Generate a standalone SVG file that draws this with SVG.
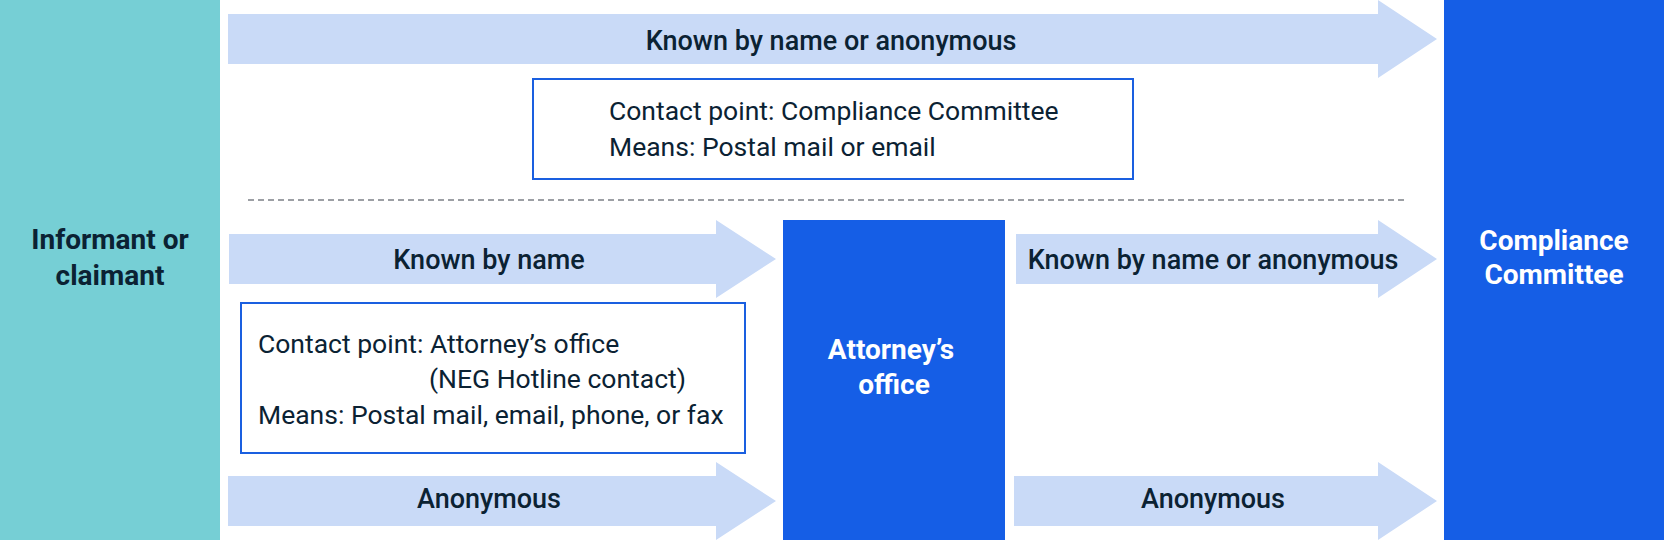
<svg xmlns="http://www.w3.org/2000/svg" width="1664" height="540" viewBox="0 0 1664 540">
  <style>
    .arrow { fill: #C9DAF7; }
    .lbl { font-family: Roboto, "Liberation Sans", sans-serif; font-size: 27px; font-weight: 500; fill: #0B2233; text-anchor: middle; }
    .info { font-family: Roboto, "Liberation Sans", sans-serif; font-size: 26.5px; font-weight: 400; fill: #0B2233; }
    .box { fill: #FFFFFF; stroke: #1A5FE0; stroke-width: 2; }
    .node-dark { font-family: Roboto, "Liberation Sans", sans-serif; font-size: 28px; font-weight: 700; fill: #0B2233; text-anchor: middle; }
    .node-light { font-family: Roboto, "Liberation Sans", sans-serif; font-size: 28px; font-weight: 700; fill: #FFFFFF; text-anchor: middle; }
  </style>
  <rect width="1664" height="540" fill="#FFFFFF"/>

  <g id="informant">
    <rect x="0" y="0" width="220" height="540" fill="#76CFD5"/>
    <text class="node-dark" x="110" y="249">Informant or</text>
    <text class="node-dark" x="110" y="285">claimant</text>
  </g>

  <g id="attorney">
    <rect x="783" y="220" width="222" height="320" fill="#155EE6"/>
    <text class="node-light" x="891" y="359">Attorney’s</text>
    <text class="node-light" x="894" y="394">office</text>
  </g>

  <g id="committee">
    <rect x="1444" y="0" width="220" height="540" fill="#155EE6"/>
    <text class="node-light" x="1554" y="250">Compliance</text>
    <text class="node-light" x="1554" y="284">Committee</text>
  </g>

  <g id="connectors">
    <polygon class="arrow" points="228,14 1378,14 1378,0 1437,39 1378,78 1378,64 228,64"/>
    <text class="lbl" x="831" y="50">Known by name or anonymous</text>

    <polygon class="arrow" points="229,234 716,234 716,220 776,259 716,298 716,284 229,284"/>
    <text class="lbl" x="489" y="269">Known by name</text>

    <polygon class="arrow" points="1016,234 1378,234 1378,220 1437,259 1378,298 1378,284 1016,284"/>
    <text class="lbl" x="1213" y="269">Known by name or anonymous</text>

    <polygon class="arrow" points="228,476 716,476 716,462 776,501 716,540 716,526 228,526"/>
    <text class="lbl" x="489" y="508">Anonymous</text>

    <polygon class="arrow" points="1014,476 1378,476 1378,462 1437,501 1378,540 1378,526 1014,526"/>
    <text class="lbl" x="1213" y="508">Anonymous</text>

    <line x1="248" y1="200" x2="1408" y2="200" stroke="#7C8087" stroke-width="1.5" stroke-dasharray="6 4"/>
  </g>

  <g id="contact-committee">
    <rect class="box" x="533" y="79" width="600" height="100"/>
    <text class="info" x="609" y="120">Contact point: Compliance Committee</text>
    <text class="info" x="609" y="156">Means: Postal mail or email</text>
  </g>

  <g id="contact-attorney">
    <rect class="box" x="241" y="303" width="504" height="150"/>
    <text class="info" x="258" y="353">Contact point: Attorney’s office</text>
    <text class="info" x="429" y="388">(NEG Hotline contact)</text>
    <text class="info" x="258" y="424">Means: Postal mail, email, phone, or fax</text>
  </g>
</svg>
